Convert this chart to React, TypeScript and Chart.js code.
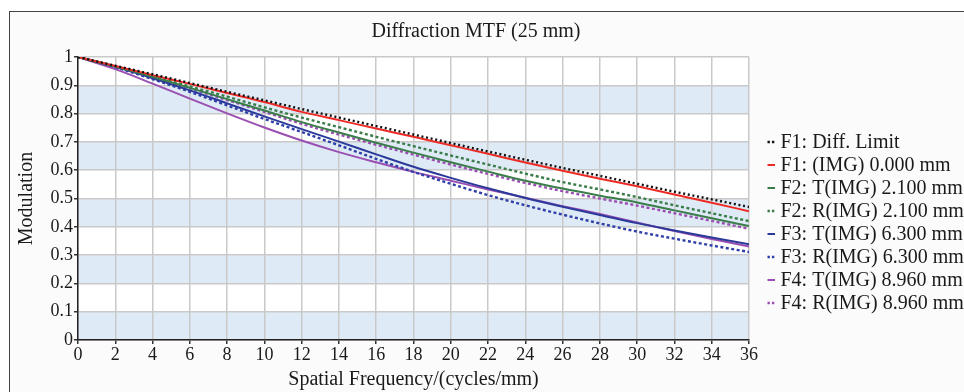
import React, { useEffect, useRef } from "react";
import { Chart, registerables } from "chart.js";

Chart.register(...registerables);

// ---- data ----
const frequencies = [0, 2, 4, 6, 8, 10, 12, 14, 16, 18, 20, 22, 24, 26, 28, 30, 32, 34, 36];

const diffLimit = [1.0, 0.969, 0.939, 0.908, 0.877, 0.847, 0.816, 0.786, 0.756, 0.726, 0.696, 0.666, 0.637, 0.608, 0.58, 0.552, 0.524, 0.497, 0.47];
const f1Img = [1.0, 0.968, 0.936, 0.905, 0.873, 0.841, 0.806, 0.777, 0.747, 0.718, 0.688, 0.658, 0.627, 0.598, 0.57, 0.543, 0.514, 0.485, 0.455];
const f2T = [1.0, 0.966, 0.93, 0.891, 0.851, 0.811, 0.77, 0.733, 0.697, 0.662, 0.628, 0.595, 0.563, 0.535, 0.51, 0.486, 0.458, 0.43, 0.403];
const f2R = [1.0, 0.967, 0.933, 0.896, 0.86, 0.822, 0.786, 0.752, 0.718, 0.685, 0.652, 0.62, 0.588, 0.558, 0.532, 0.505, 0.476, 0.448, 0.42];
const f3T = [1.0, 0.965, 0.925, 0.882, 0.836, 0.79, 0.745, 0.701, 0.656, 0.612, 0.573, 0.536, 0.502, 0.471, 0.442, 0.413, 0.387, 0.362, 0.338];
const f3R = [1.0, 0.964, 0.922, 0.877, 0.829, 0.781, 0.735, 0.688, 0.64, 0.594, 0.552, 0.512, 0.476, 0.443, 0.412, 0.383, 0.358, 0.334, 0.311];
const f4T = [1.0, 0.957, 0.906, 0.853, 0.801, 0.751, 0.705, 0.664, 0.628, 0.594, 0.563, 0.532, 0.503, 0.473, 0.445, 0.415, 0.385, 0.357, 0.33];
const f4R = [1.0, 0.966, 0.928, 0.889, 0.848, 0.806, 0.764, 0.726, 0.69, 0.655, 0.62, 0.587, 0.555, 0.526, 0.5, 0.475, 0.448, 0.421, 0.393];

const seriesLabels = [
  "F1: Diff. Limit",
  "F1: (IMG) 0.000 mm",
  "F2: T(IMG) 2.100 mm",
  "F2: R(IMG) 2.100 mm",
  "F3: T(IMG) 6.300 mm",
  "F3: R(IMG) 6.300 mm",
  "F4: T(IMG) 8.960 mm",
  "F4: R(IMG) 8.960 mm",
];
const seriesValues = [diffLimit, f1Img, f2T, f2R, f3T, f3R, f4T, f4R];
const seriesColors = ["#111111", "#ee2a24", "#3a7d4a", "#3a7d4a", "#2b3a9a", "#2f3fa8", "#9a4fb2", "#9a4fb2"];
const seriesDotted = [true, false, false, true, false, true, false, true];

const chartTitle = "Diffraction MTF (25 mm)";
const xTitle = "Spatial Frequency/(cycles/mm)";
const yTitle = "Modulation";
const xMin = 0, xMax = 36, xStep = 2;
const yMin = 0, yMax = 1, yStep = 0.1;

const FONT = "'Liberation Serif', 'Times New Roman', serif";

export default function App() {
  const ref = useRef<HTMLCanvasElement | null>(null);

  useEffect(() => {
    const canvas = ref.current;
    if (!canvas) return;

    const datasets = seriesValues.map((vals, i) => ({
      label: seriesLabels[i],
      data: vals.map((v, j) => ({ x: frequencies[j], y: v })),
      borderColor: seriesColors[i],
      backgroundColor: seriesColors[i],
      borderWidth: seriesDotted[i] ? 2.4 : 2,
      borderDash: seriesDotted[i] ? (i === 0 ? [2, 2.7] : [3, 2.5]) : [],
      pointRadius: 0,
      fill: false,
      cubicInterpolationMode: "monotone" as const,
      order: i === 0 ? 0 : 1,
    }));

    const decor = {
      id: "decor",
      beforeDraw(chart: any) {
        const { ctx, chartArea } = chart;
        const y = chart.scales.y;
        ctx.save();
        ctx.fillStyle = "#ffffff";
        ctx.fillRect(chartArea.left, chartArea.top, chartArea.right - chartArea.left, chartArea.bottom - chartArea.top);
        ctx.fillStyle = "#deebf6";
        for (let k = 0; k < 10; k += 2) {
          const lo = yMin + k * yStep;
          const hi = lo + yStep;
          const p1 = y.getPixelForValue(hi);
          const p2 = y.getPixelForValue(lo);
          ctx.fillRect(chartArea.left, p1, chartArea.right - chartArea.left, p2 - p1);
        }
        ctx.restore();
      },
      afterDraw(chart: any) {
        const { ctx } = chart;
        ctx.save();
        // title
        ctx.fillStyle = "#1a1a1a";
        ctx.font = `20px ${FONT}`;
        ctx.textAlign = "center";
        ctx.textBaseline = "middle";
        ctx.fillText(chartTitle, 466, 20);
        // legend
        ctx.textAlign = "left";
        const rowTop = 130;
        const rowGap = 23;
        chart.data.datasets.forEach((ds: any, i: number) => {
          const cy = rowTop + i * rowGap;
          ctx.strokeStyle = ds.borderColor;
          ctx.lineWidth = seriesDotted[i] ? 2.5 : 2;
          ctx.setLineDash(seriesDotted[i] ? [2.4, 2] : []);
          ctx.beginPath();
          ctx.moveTo(757.5, cy);
          ctx.lineTo(765, cy);
          ctx.stroke();
          ctx.setLineDash([]);
          ctx.fillStyle = "#1a1a1a";
          ctx.fillText(ds.label, 770.5, cy + 1);
        });
        ctx.restore();
      },
    };

    const chart = new Chart(canvas, {
      type: "line",
      data: { datasets },
      plugins: [decor],
      options: {
        animation: false,
        responsive: false,
        maintainAspectRatio: false,
        layout: { padding: { left: 0, top: 45, right: 215, bottom: 0 } },
        plugins: {
          legend: { display: false },
          title: { display: false },
          tooltip: { enabled: false },
        },
        scales: {
          x: {
            type: "linear",
            min: xMin,
            max: xMax,
            afterFit(scale: any) {
              scale.height = 52;
            },
            ticks: {
              stepSize: xStep,
              autoSkip: false,
              maxRotation: 0,
              padding: 0,
              color: "#1a1a1a",
              font: { family: FONT, size: 18 },
            },
            grid: { color: "#c9c9c9", lineWidth: 1.5, tickLength: 4, tickColor: "#333333" },
            border: { color: "#222222", width: 1.5 },
            title: {
              display: true,
              text: xTitle,
              color: "#1a1a1a",
              font: { family: FONT, size: 20 },
              padding: { top: 0, bottom: 0 },
            },
          },
          y: {
            type: "linear",
            min: yMin,
            max: yMax,
            afterFit(scale: any) {
              scale.width = 68;
            },
            ticks: {
              stepSize: yStep,
              padding: 1,
              color: "#1a1a1a",
              font: { family: FONT, size: 18 },
              callback: (v: any) => Number(Number(v).toFixed(1)).toString(),
            },
            grid: { color: "#c9c9c9", lineWidth: 1.5, tickLength: 4, tickColor: "#333333" },
            border: { color: "#222222", width: 1.5 },
            title: {
              display: true,
              text: yTitle,
              color: "#1a1a1a",
              font: { family: FONT, size: 20 },
              padding: { top: 5, bottom: 0 },
            },
          },
        },
      },
    });

    return () => chart.destroy();
  }, []);

  return (
    <div
      style={{
        position: "absolute",
        left: 9,
        top: 11,
        width: 955,
        height: 381,
        borderLeft: "1px solid #444",
        borderTop: "1px solid #444",
        background: "#fbfbfb",
      }}
    >
      <canvas ref={ref} width={954} height={380} style={{ display: "block", width: 954, height: 380 }} />
    </div>
  );
}
